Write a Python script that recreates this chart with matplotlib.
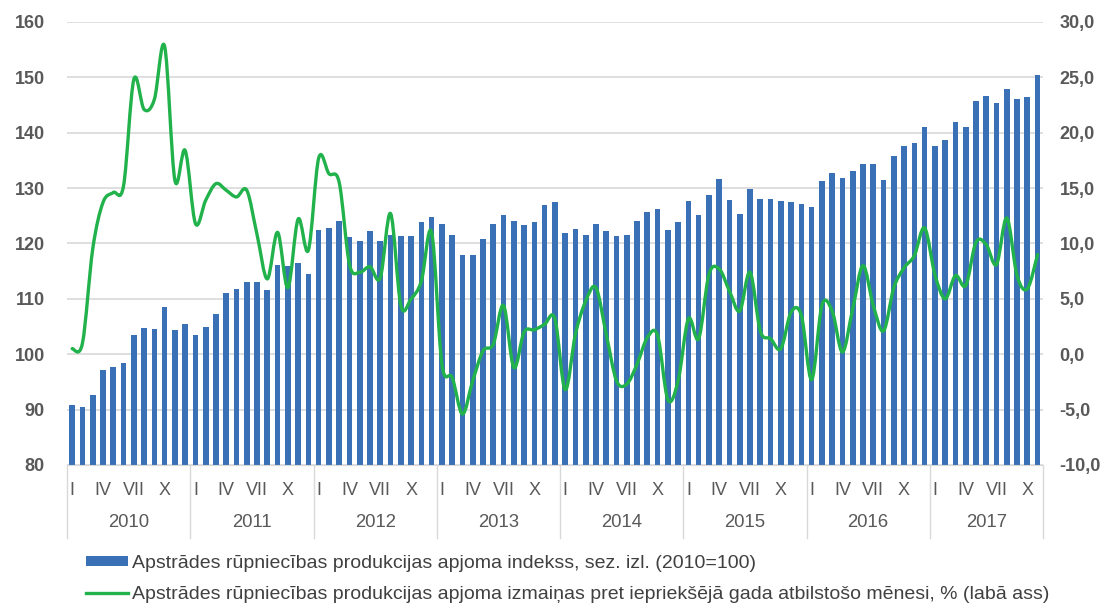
import numpy as np
import matplotlib
matplotlib.use('Agg')
import matplotlib.pyplot as plt
from matplotlib.path import Path
from matplotlib.patches import PathPatch, Patch
from matplotlib.lines import Line2D
import matplotlib.transforms as mtransforms

plt.rcParams['font.family'] = ['Liberation Sans', 'DejaVu Sans']

# monthly data, 2010-01 .. 2017-11
years = ['2010', '2011', '2012', '2013', '2014', '2015', '2016', '2017']
month_labels = ['I', 'IV', 'VII', 'X']

index_2010 = [
    90.8, 90.4, 92.6, 97.1, 97.7, 98.5, 103.4, 104.8, 104.5, 108.6, 104.3, 105.4,   # 2010
    103.4, 105.0, 107.3, 111.1, 111.8, 113.0, 113.0, 111.6, 116.1, 116.0, 116.4, 114.5,  # 2011
    122.4, 122.7, 124.0, 121.1, 120.5, 122.2, 120.5, 121.5, 121.3, 121.3, 123.8, 124.8,  # 2012
    123.6, 121.6, 118.0, 118.0, 120.8, 123.6, 125.2, 124.0, 123.4, 123.9, 126.9, 127.5,  # 2013
    121.8, 122.6, 121.6, 123.6, 122.2, 121.3, 121.6, 124.0, 125.7, 126.3, 122.4, 123.9,  # 2014
    127.7, 125.2, 128.7, 131.7, 127.8, 125.4, 129.9, 128.0, 128.0, 127.7, 127.5, 127.2,  # 2015
    126.6, 131.3, 132.7, 131.9, 133.1, 134.3, 134.3, 131.4, 135.8, 137.6, 138.1, 141.0,  # 2016
    137.6, 138.6, 141.9, 141.0, 145.7, 146.6, 145.4, 147.9, 146.0, 146.4, 150.5,         # 2017
]

yoy_change = [
    0.5, 1.0, 9.5, 13.7, 14.6, 15.2, 24.8, 22.1, 23.0, 27.8, 15.7, 18.4,
    11.8, 13.9, 15.4, 14.8, 14.2, 14.8, 10.8, 6.8, 11.0, 6.0, 12.2, 9.4,
    17.7, 16.3, 15.5, 8.1, 7.4, 7.9, 6.9, 12.7, 4.4, 5.0, 6.6, 11.0,
    -0.9, -2.1, -5.4, -2.4, 0.3, 0.9, 4.4, -1.2, 2.0, 2.2, 2.7, 3.2,
    -3.2, 1.8, 4.8, 6.0, 1.8, -2.4, -2.7, -0.9, 1.5, 1.7, -4.1, -2.4,
    3.2, 1.4, 7.2, 7.7, 5.7, 3.9, 7.4, 2.1, 1.4, 0.5, 3.8, 3.5,
    -2.3, 4.4, 3.9, 0.2, 4.1, 8.0, 4.4, 2.1, 6.0, 7.8, 8.9, 11.4,
    7.2, 5.0, 7.1, 6.2, 10.1, 9.9, 8.1, 12.3, 7.1, 5.9, 9.0,
]

label_bars = 'Apstrādes rūpniecības produkcijas apjoma indekss, sez. izl. (2010=100)'
label_line = ('Apstrādes rūpniecības produkcijas apjoma izmaiņas pret iepriekšējā gada '
              'atbilstošo mēnesi, % (labā ass)')

bar_color = '#3a70b5'
line_color = '#21b24b'
grid_color = '#d9d9d9'
text_color = '#595959'

n = len(index_2010)
x = np.arange(n)


def smooth_path(xs, ys):
    # excel-like smoothed line (catmull-rom as cubic beziers)
    verts = [(xs[0], ys[0])]
    codes = [Path.MOVETO]
    for i in range(len(xs) - 1):
        xa, ya = (xs[i - 1], ys[i - 1]) if i > 0 else (xs[i], ys[i])
        xb, yb = (xs[i + 2], ys[i + 2]) if i + 2 < len(xs) else (xs[i + 1], ys[i + 1])
        c1 = (xs[i] + (xs[i + 1] - xa) / 6, ys[i] + (ys[i + 1] - ya) / 6)
        c2 = (xs[i + 1] - (xb - xs[i]) / 6, ys[i + 1] - (yb - ys[i]) / 6)
        verts += [c1, c2, (xs[i + 1], ys[i + 1])]
        codes += [Path.CURVE4] * 3
    return Path(verts, codes)


fig, ax = plt.subplots(figsize=(11.12, 6.09), dpi=100)
fig.subplots_adjust(left=0.0603, right=0.9377, top=0.964, bottom=0.2365)

ax.bar(x, index_2010, width=0.55, bottom=0, color=bar_color, zorder=2)
ax.set_ylim(80, 160)
ax.set_xlim(-0.5, n - 0.5)
ax.set_yticks(np.arange(80, 161, 10))
ax.set_axisbelow(True)
ax.yaxis.grid(True, color=grid_color, lw=1.2)
for s in ['top', 'left', 'right']:
    ax.spines[s].set_visible(False)
ax.spines['bottom'].set_color(grid_color)
ax.tick_params(axis='y', length=0, pad=16, labelsize=13, labelcolor=text_color)
for t in ax.get_yticklabels():
    t.set_fontweight('bold')

# month ticks
tick_pos = [12 * k + m for k in range(len(years)) for m in (0, 3, 6, 9) if 12 * k + m < n]
tick_lab = [month_labels[(p % 12) // 3] for p in tick_pos]
ax.set_xticks(tick_pos)
ax.set_xticklabels(tick_lab)
ax.tick_params(axis='x', length=0, pad=12, labelsize=13, labelcolor=text_color)

# year separators and labels
trans = mtransforms.blended_transform_factory(ax.transData, ax.transAxes)
bounds = [12 * k - 0.5 for k in range(len(years))] + [n - 0.5]
for b in bounds:
    ax.plot([b, b], [0, -0.165], transform=trans, color=grid_color, lw=1, clip_on=False)
for k, yr in enumerate(years):
    mid = (bounds[k] + bounds[k + 1]) / 2
    ax.text(mid, -0.129, yr, transform=trans, ha='center', va='center',
            fontsize=13.3, color=text_color)

# right axis with smoothed line
ax2 = ax.twinx()
ax2.set_ylim(-10, 30)
ax2.set_yticks(np.arange(-10, 31, 5))
ax2.set_yticklabels([f'{v:.1f}'.replace('.', ',') for v in np.arange(-10, 31, 5)])
ax2.tick_params(axis='y', length=0, pad=12, labelsize=13, labelcolor=text_color)
for t in ax2.get_yticklabels():
    t.set_fontweight('bold')
for s in ax2.spines.values():
    s.set_visible(False)
ax2.add_patch(PathPatch(smooth_path(x, yoy_change), fill=False, edgecolor=line_color,
                        lw=2.4, capstyle='round', joinstyle='round', zorder=3))

handles = [Patch(facecolor=bar_color, edgecolor='none'),
           Line2D([], [], color=line_color, lw=2.4)]
fig.legend(handles, [label_bars, label_line], loc='upper left',
           bbox_to_anchor=(0.0705, 0.102), frameon=False,
           fontsize=14.0, labelcolor='#404040', handlelength=2.15,
           handleheight=0.45, handletextpad=0.2, labelspacing=0.74, borderaxespad=0)

fig.savefig('out.png', dpi=100)
